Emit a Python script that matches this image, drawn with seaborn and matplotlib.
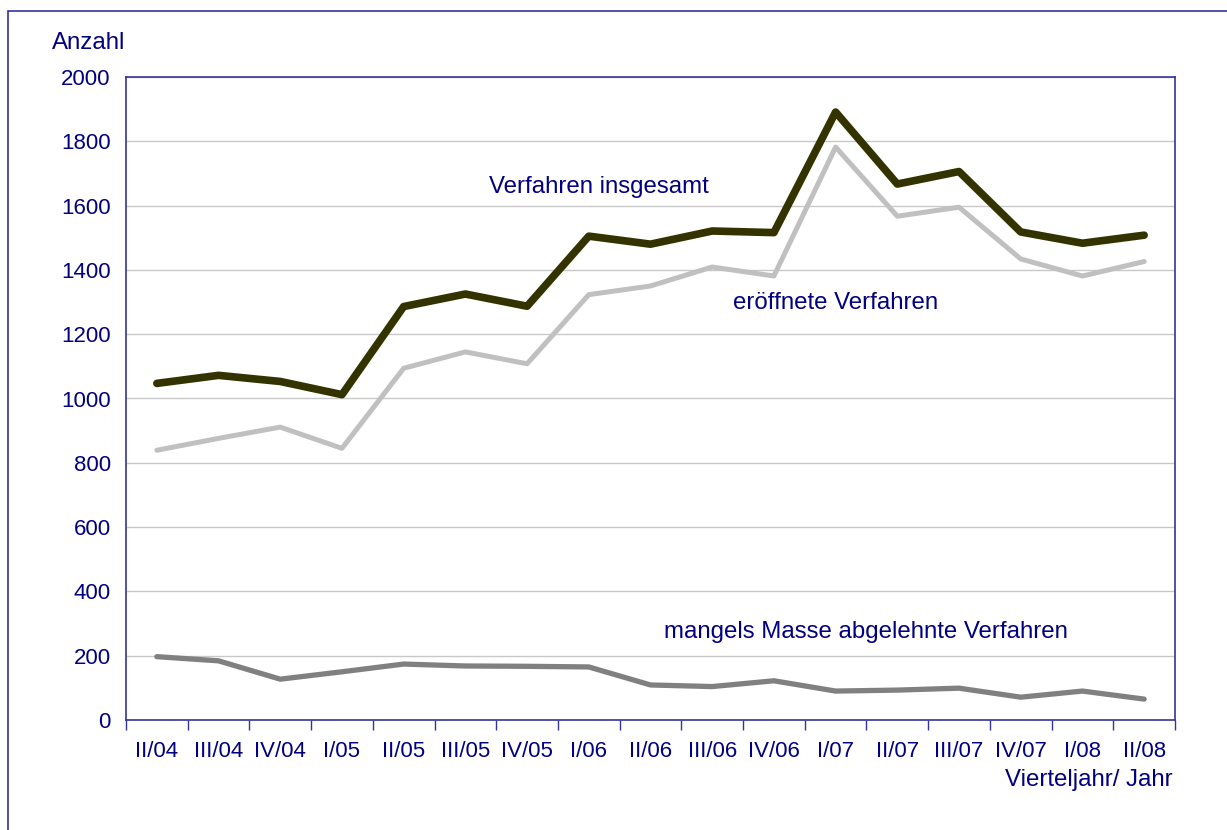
import numpy as np
import pandas as pd
import matplotlib
matplotlib.use("Agg")
import matplotlib.pyplot as plt
import seaborn as sns
from matplotlib.patches import Rectangle
from matplotlib.ticker import FixedLocator

# Quarter labels
quarters = ["II/04", "III/04", "IV/04", "I/05", "II/05", "III/05", "IV/05",
            "I/06", "II/06", "III/06", "IV/06", "I/07", "II/07", "III/07",
            "IV/07", "I/08", "II/08"]

# Series values
insgesamt = [1047, 1072, 1053, 1012, 1286, 1325, 1287, 1505, 1480, 1521,
             1516, 1891, 1667, 1706, 1518, 1483, 1508]
eroeffnet = [839, 876, 911, 845, 1094, 1145, 1108, 1323, 1350, 1409,
             1381, 1782, 1567, 1595, 1434, 1381, 1426]
abgelehnt = [197, 184, 127, 150, 174, 168, 167, 165, 109, 104,
             122, 90, 93, 99, 71, 90, 65]

navy = "#000080"
frame = "#33339a"

sns.set_style("white")
plt.rcParams["font.family"] = ["Liberation Sans", "DejaVu Sans"]

fig = plt.figure(figsize=(12.27, 8.3), dpi=100)
ax = fig.add_axes([126 / 1227, 1 - 720 / 830, 1049 / 1227, 643 / 830])

# Outer frame of the chart area
fig.patches.append(Rectangle((8 / 1227, -0.1), 1.2, 1 - 11 / 830 + 0.1,
                             transform=fig.transFigure, fill=False,
                             edgecolor=frame, linewidth=1.2))

df = pd.DataFrame({"Quartal": quarters,
                   "insgesamt": insgesamt,
                   "eroeffnet": eroeffnet,
                   "abgelehnt": abgelehnt})

sns.lineplot(data=df, x="Quartal", y="eroeffnet", ax=ax, color="#c0c0c0",
             linewidth=3.6, sort=False)
sns.lineplot(data=df, x="Quartal", y="abgelehnt", ax=ax, color="#808080",
             linewidth=3.8, sort=False)
sns.lineplot(data=df, x="Quartal", y="insgesamt", ax=ax, color="#333300",
             linewidth=5.5, sort=False, solid_capstyle="round")

ax.set_xlim(-0.5, len(quarters) - 0.5)
ax.set_ylim(0, 2000)
ax.set_yticks(np.arange(0, 2001, 200))
ax.yaxis.grid(True, color="#c8c8c8", linewidth=1)
ax.set_axisbelow(True)

ax.set_xticks(range(len(quarters)))
ax.set_xticklabels(quarters)
ax.xaxis.set_minor_locator(FixedLocator(np.arange(-0.5, len(quarters), 1)))
ax.tick_params(axis="x", which="major", length=0, pad=15, labelsize=16,
               labelcolor=navy)
ax.tick_params(axis="x", which="minor", length=7, width=1, color=frame,
               direction="out", bottom=True)
ax.tick_params(axis="y", length=0, pad=11, labelsize=16, labelcolor=navy)

for side in ["left", "right", "top", "bottom"]:
    ax.spines[side].set_color(frame)
    ax.spines[side].set_linewidth(1.2)
    ax.spines[side].set_visible(True)

ax.set_xlabel("")
ax.set_ylabel("")

# Series labels
ax.text(5.38, 1658, "Verfahren insgesamt", color=navy, fontsize=17.3,
        va="center", ha="left")
ax.text(9.34, 1297, "eröffnete Verfahren", color=navy, fontsize=17.3,
        va="center", ha="left")
ax.text(8.22, 274, "mangels Masse abgelehnte Verfahren", color=navy,
        fontsize=17.3, va="center", ha="left")

fig.text(52 / 1227, 1 - 43 / 830, "Anzahl", color=navy, fontsize=17.3,
         va="center", ha="left")
fig.text(1173 / 1227, 1 - 780 / 830, "Vierteljahr/ Jahr", color=navy,
         fontsize=17.3, va="center", ha="right")

fig.savefig("out.png", dpi=100)
